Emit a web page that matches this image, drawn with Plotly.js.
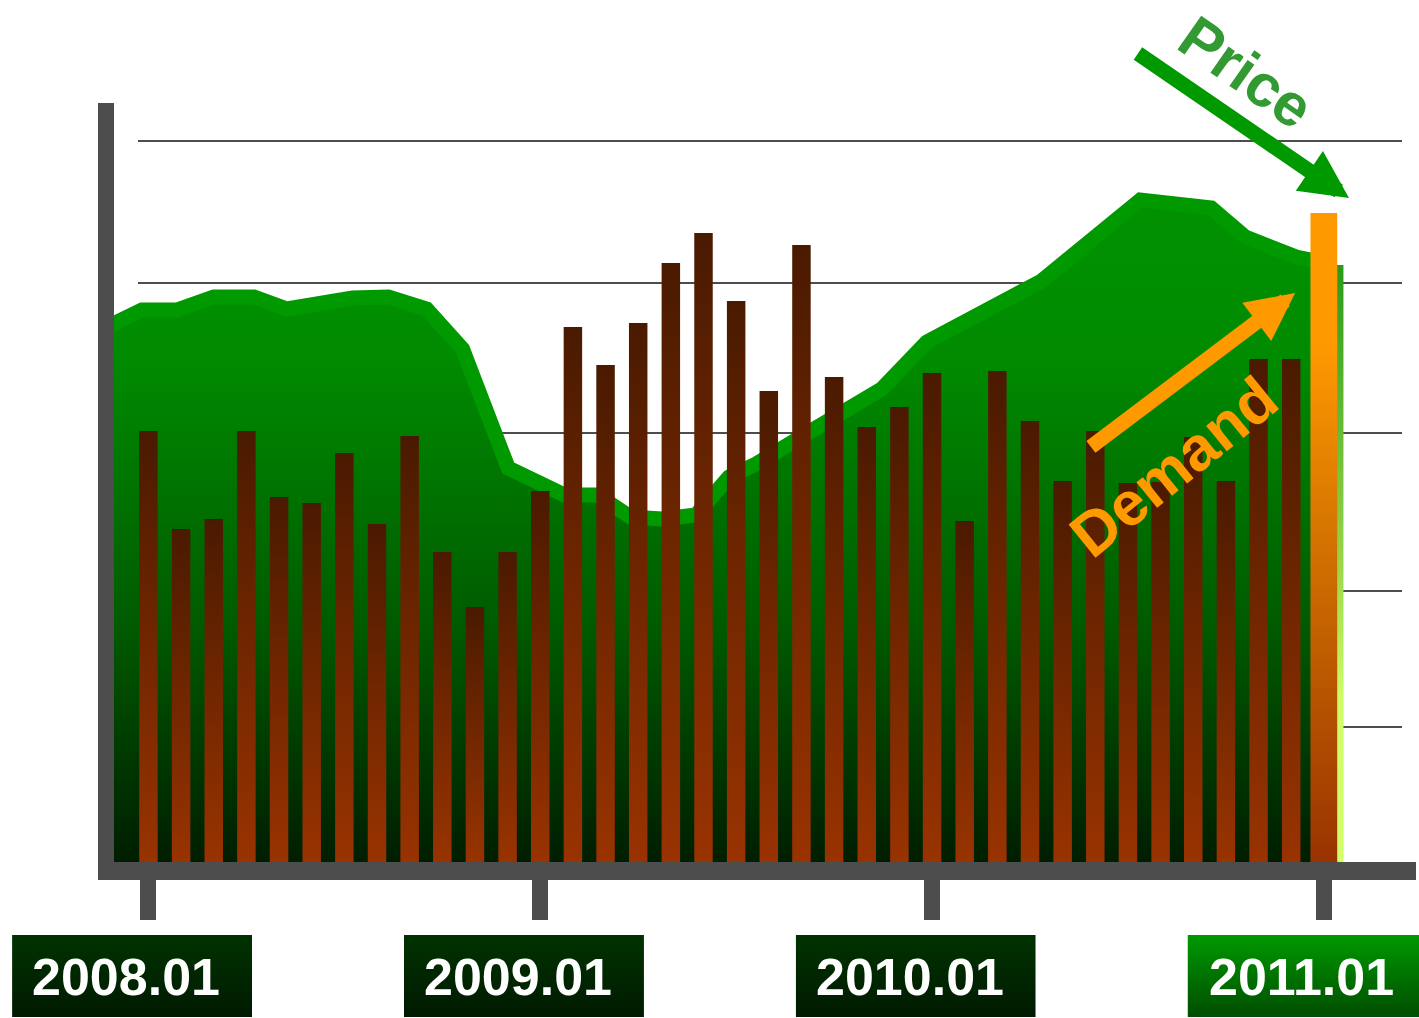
<!DOCTYPE html>
<html>
<head>
<meta charset="utf-8">
<script src="https://cdn.plot.ly/plotly-3.0.1.min.js"></script>
<style>body{margin:0;background:#fff}</style>
</head>
<body>
<div id="chart" style="width:1419px;height:1018px;"></div>
<script>
/**
 * Monthly demand, 2008.01 .. 2011.01 (last month is the highlighted one)
 */
const demand = [43.1, 33.3, 34.3, 43.1, 36.5, 35.9, 40.9, 33.8, 42.6, 31.0, 25.5, 31.0,
                37.1, 53.5, 49.7, 53.9, 59.9, 62.9, 56.1, 47.1, 61.7, 48.5, 43.5, 45.5,
                48.9, 34.1, 49.1, 44.1, 38.1, 43.1, 37.9, 38.0, 42.5, 38.1, 50.3, 50.3,
                64.9];

/**
 * Price curve (x in months counted from 2008.01)
 */
const priceMonths = [-1.27, -0.20, 0.87, 2.00, 3.23, 4.24, 6.25, 7.35, 8.52, 9.62, 11.02,
                     12.74, 13.75, 14.76, 15.73, 16.77, 17.78, 18.61, 20.14, 22.46, 23.84,
                     27.35, 30.38, 32.55, 33.59, 35.15, 36.35];
const price = [53.5, 55.2, 55.2, 56.5, 56.5, 55.3, 56.4, 56.5, 55.3, 51.3, 39.4,
               36.7, 36.7, 34.5, 34.3, 34.7, 38.5, 39.8, 42.8, 47.3, 52.0,
               58.1, 66.2, 65.4, 62.5, 60.5, 59.7];

/**
 * Axis ticks and grid levels
 */
const tickMonths = [0, 12, 24, 36];
const tickLabels = ['2008.01', '2009.01', '2010.01', '2011.01'];
const gridLevels = [13.5, 27.1, 42.9, 57.9, 72.1];

/**
 * Colors
 */
const axisGrey = '#4d4d4d';
const barTop = '#4a1a00';
const barBottom = '#993300';
const orange = '#ff9900';
const green = '#009900';
const textGreen = '#339933';
const fontFamily = 'Liberation Sans, Arial, sans-serif';

// geometry of the plot area
const figW = 1419, figH = 1018;
const margin = {l: 114, r: 17, t: 22, b: 156, pad: 0};
const plotW = figW - margin.l - margin.r;
const plotH = figH - margin.t - margin.b;
const monthPx = 32.65;
const xRange = [-1.055, -1.055 + plotW / monthPx];
const yRange = [0, 84];
const barHalf = 0.283;
const hotHalf = 0.41;

function paperX(px) { return (px - margin.l) / plotW; }
function paperY(py) { return (figH - margin.b - py) / plotH; }
function monthToPaper(m) { return (m - xRange[0]) / (xRange[1] - xRange[0]); }

function boxImage(top, bottom) {
    const svg = '<svg xmlns="http://www.w3.org/2000/svg" width="240" height="82" viewBox="0 0 240 82" preserveAspectRatio="none">' +
        '<defs><linearGradient id="g" x1="0" y1="0" x2="0" y2="1">' +
        '<stop offset="0" stop-color="' + top + '"/><stop offset="1" stop-color="' + bottom + '"/>' +
        '</linearGradient></defs><rect width="240" height="82" fill="url(#g)"/></svg>';
    return 'data:image/svg+xml;charset=utf-8,' + encodeURIComponent(svg);
}

function buildTraces() {
    var traces = [];

    // price area with the bright band on top
    traces.push({
        x: priceMonths,
        y: price,
        type: 'scatter',
        mode: 'lines',
        line: {color: green, width: 15},
        fill: 'tozeroy',
        fillgradient: {
            type: 'vertical',
            start: 0,
            stop: 60,
            colorscale: [[0, '#001e00'], [0.39, '#005a00'], [0.83, '#008a00'], [1, '#009000']]
        },
        hoverinfo: 'skip',
        showlegend: false
    });

    // light side edge of the price area
    var lastX = priceMonths[priceMonths.length - 1];
    var lastP = price[price.length - 1];
    traces.push({
        x: [lastX, lastX + 0.25, lastX + 0.25, lastX],
        y: [0, 0, lastP, lastP],
        type: 'scatter',
        mode: 'lines',
        line: {width: 0},
        fill: 'toself',
        fillgradient: {
            type: 'vertical',
            colorscale: [[0, '#d0ff66'], [0.27, '#ccff66'], [0.5, '#99d648'], [1, '#2a9a1a']]
        },
        hoverinfo: 'skip',
        showlegend: false
    });

    // demand bars, each with its own top-to-bottom gradient
    for (let i = 0; i < demand.length; i++) {
        const last = i === demand.length - 1;
        const hw = last ? hotHalf : barHalf;
        traces.push({
            x: [i - hw, i + hw, i + hw, i - hw],
            y: [0, 0, demand[i], demand[i]],
            type: 'scatter',
            mode: 'lines',
            line: {width: 0},
            fill: 'toself',
            fillgradient: {
                type: 'vertical',
                colorscale: last
                    ? [[0, barBottom], [0.47, '#d07000'], [0.8, orange], [1, orange]]
                    : [[0, barBottom], [1, barTop]]
            },
            hoverinfo: 'skip',
            showlegend: false
        });
    }
    return traces;
}

function buildLayout() {
    var shapes = [];
    gridLevels.forEach(function (g) {
        shapes.push({
            type: 'line', layer: 'below',
            xref: 'paper', x0: paperX(138), x1: 1,
            yref: 'y', y0: g, y1: g,
            line: {color: axisGrey, width: 2}
        });
    });
    // thick axis bars
    shapes.push({
        type: 'rect', layer: 'above', xref: 'paper', yref: 'paper',
        x0: paperX(98), x1: paperX(114), y0: paperY(880), y1: paperY(103),
        fillcolor: axisGrey, line: {width: 0}
    });
    shapes.push({
        type: 'rect', layer: 'above', xref: 'paper', yref: 'paper',
        x0: paperX(98), x1: paperX(1416), y0: paperY(880), y1: paperY(862),
        fillcolor: axisGrey, line: {width: 0}
    });

    var images = [];
    var annotations = [];
    tickMonths.forEach(function (m, k) {
        const hot = k === tickMonths.length - 1;
        images.push({
            source: hot ? boxImage('#009900', '#004d00') : boxImage('#003300', '#001a00'),
            xref: 'paper', yref: 'paper',
            x: monthToPaper(m - 0.5), y: paperY(935),
            sizex: 240 / plotW, sizey: 82 / plotH,
            xanchor: 'center', yanchor: 'top',
            sizing: 'stretch', layer: 'above'
        });
        annotations.push({
            text: tickLabels[k],
            xref: 'x', x: m - 0.5, xshift: -6,
            yref: 'paper', y: paperY(977), yanchor: 'middle',
            showarrow: false,
            font: {family: fontFamily, size: 52, color: '#ffffff', weight: 'bold'}
        });
    });

    // trend arrows
    annotations.push({
        text: '', xref: 'x', yref: 'y', x: 35.12, y: 56.9,
        axref: 'x', ayref: 'y', ax: 28.82, ay: 41.4,
        showarrow: true, arrowhead: 2, arrowsize: 0.64, arrowwidth: 15,
        arrowcolor: orange, standoff: 0
    });
    annotations.push({
        text: '', xref: 'x', yref: 'y', x: 36.77, y: 66.4,
        axref: 'x', ayref: 'y', ax: 30.26, ay: 80.95,
        showarrow: true, arrowhead: 2, arrowsize: 0.64, arrowwidth: 15,
        arrowcolor: green, standoff: 0
    });
    annotations.push({
        text: 'Demand', xref: 'x', yref: 'y', x: 31.4, y: 39.6,
        showarrow: false, textangle: -39,
        font: {family: fontFamily, size: 62, color: orange, weight: 'bold'}
    });
    annotations.push({
        text: 'Price', xref: 'x', yref: 'y', x: 33.62, y: 79.0,
        showarrow: false, textangle: 35, borderpad: 0,
        font: {family: fontFamily, size: 60, color: textGreen, weight: 'bold'}
    });

    return {
        width: figW,
        height: figH,
        margin: margin,
        paper_bgcolor: '#ffffff',
        plot_bgcolor: '#ffffff',
        showlegend: false,
        xaxis: {
            range: xRange,
            tickvals: tickMonths,
            ticks: 'outside',
            ticklen: 57,
            tickwidth: 16,
            tickcolor: axisGrey,
            showticklabels: false,
            showgrid: false,
            zeroline: false,
            showline: false,
            fixedrange: true
        },
        yaxis: {
            range: yRange,
            showticklabels: false,
            showgrid: false,
            zeroline: false,
            showline: false,
            ticks: '',
            fixedrange: true
        },
        shapes: shapes,
        images: images,
        annotations: annotations
    };
}

Plotly.newPlot('chart', buildTraces(), buildLayout(), {displayModeBar: false, staticPlot: true});
</script>
</body>
</html>
